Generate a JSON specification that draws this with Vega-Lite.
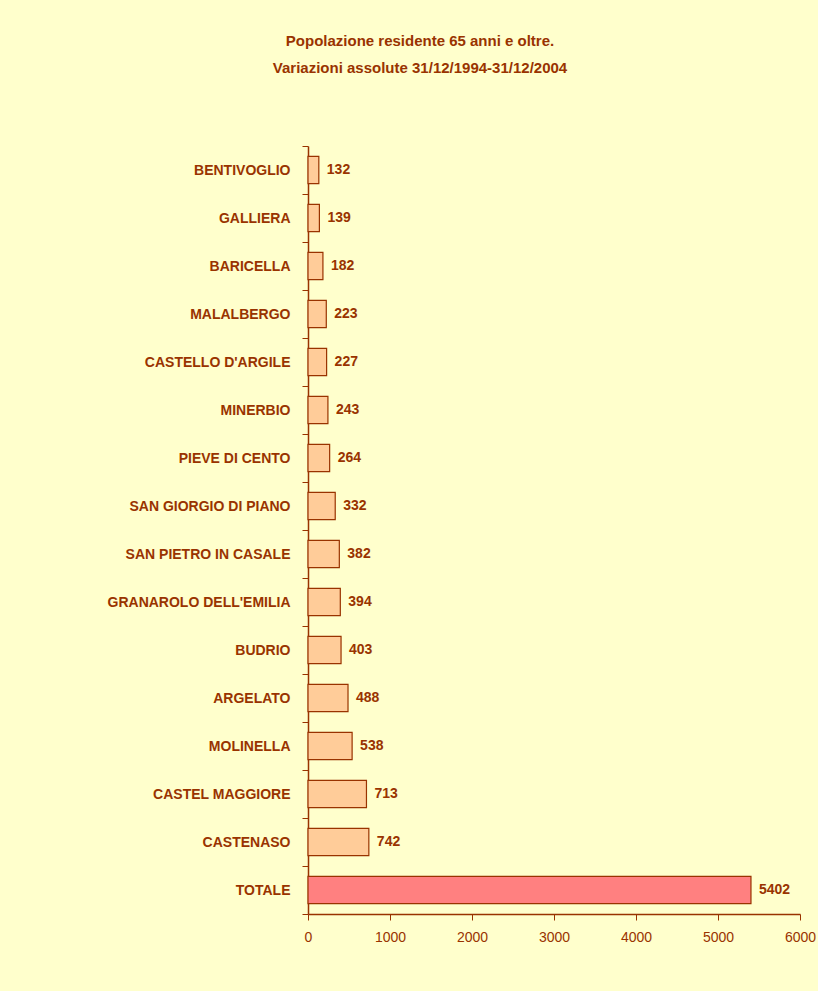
{
  "$schema": "https://vega.github.io/schema/vega-lite/v6.json",
  "width": 492,
  "height": 768,
  "autosize": "none",
  "padding": {"left": 308, "top": 146, "right": 18, "bottom": 77},
  "background": "#FFFFCC",
  "title": {
    "text": ["Popolazione residente 65 anni e oltre.", "Variazioni assolute 31/12/1994-31/12/2004"],
    "anchor": "middle",
    "dx": -134,
    "offset": 63,
    "fontSize": 15,
    "fontWeight": "bold",
    "font": "Liberation Sans",
    "color": "#993300",
    "lineHeight": 27
  },
  "data": {
    "values": [
      {"comune": "BENTIVOGLIO", "valore": 132, "tipo": "comune"},
      {"comune": "GALLIERA", "valore": 139, "tipo": "comune"},
      {"comune": "BARICELLA", "valore": 182, "tipo": "comune"},
      {"comune": "MALALBERGO", "valore": 223, "tipo": "comune"},
      {"comune": "CASTELLO D'ARGILE", "valore": 227, "tipo": "comune"},
      {"comune": "MINERBIO", "valore": 243, "tipo": "comune"},
      {"comune": "PIEVE DI CENTO", "valore": 264, "tipo": "comune"},
      {"comune": "SAN GIORGIO DI PIANO", "valore": 332, "tipo": "comune"},
      {"comune": "SAN PIETRO IN CASALE", "valore": 382, "tipo": "comune"},
      {"comune": "GRANAROLO DELL'EMILIA", "valore": 394, "tipo": "comune"},
      {"comune": "BUDRIO", "valore": 403, "tipo": "comune"},
      {"comune": "ARGELATO", "valore": 488, "tipo": "comune"},
      {"comune": "MOLINELLA", "valore": 538, "tipo": "comune"},
      {"comune": "CASTEL MAGGIORE", "valore": 713, "tipo": "comune"},
      {"comune": "CASTENASO", "valore": 742, "tipo": "comune"},
      {"comune": "TOTALE", "valore": 5402, "tipo": "totale"}
    ]
  },
  "encoding": {
    "y": {
      "field": "comune",
      "type": "nominal",
      "sort": null,
      "scale": {"paddingInner": 0, "paddingOuter": 0},
      "axis": {
        "title": null,
        "labelFont": "Liberation Sans",
        "labelFontSize": 14,
        "labelFontWeight": "bold",
        "labelColor": "#993300",
        "labelPadding": 12,
        "tickBand": "extent",
        "tickSize": 6,
        "tickColor": "#993300",
        "domainColor": "#993300",
        "domainWidth": 1.5,
        "labelLimit": 300
      }
    },
    "x": {
      "field": "valore",
      "type": "quantitative",
      "scale": {"domain": [0, 6000]},
      "axis": {
        "title": null,
        "values": [0, 1000, 2000, 3000, 4000, 5000, 6000],
        "format": "d",
        "grid": false,
        "labelFont": "Liberation Sans",
        "labelFontSize": 14,
        "labelColor": "#993300",
        "labelPadding": 10,
        "labelFlush": false,
        "tickSize": 6,
        "tickColor": "#993300",
        "domainColor": "#993300",
        "domainWidth": 1.5
      }
    }
  },
  "layer": [
    {
      "mark": {"type": "bar", "stroke": "#993300", "strokeWidth": 1.2, "height": {"band": 0.57}},
      "encoding": {
        "color": {
          "field": "tipo",
          "type": "nominal",
          "scale": {"domain": ["comune", "totale"], "range": ["#FFCC99", "#FF8080"]},
          "legend": null
        }
      }
    },
    {
      "mark": {"type": "text", "align": "left", "dx": 8, "font": "Liberation Sans", "fontSize": 14, "fontWeight": "bold", "color": "#993300"},
      "encoding": {"text": {"field": "valore", "type": "quantitative"}}
    }
  ],
  "config": {"view": {"stroke": null}}
}
